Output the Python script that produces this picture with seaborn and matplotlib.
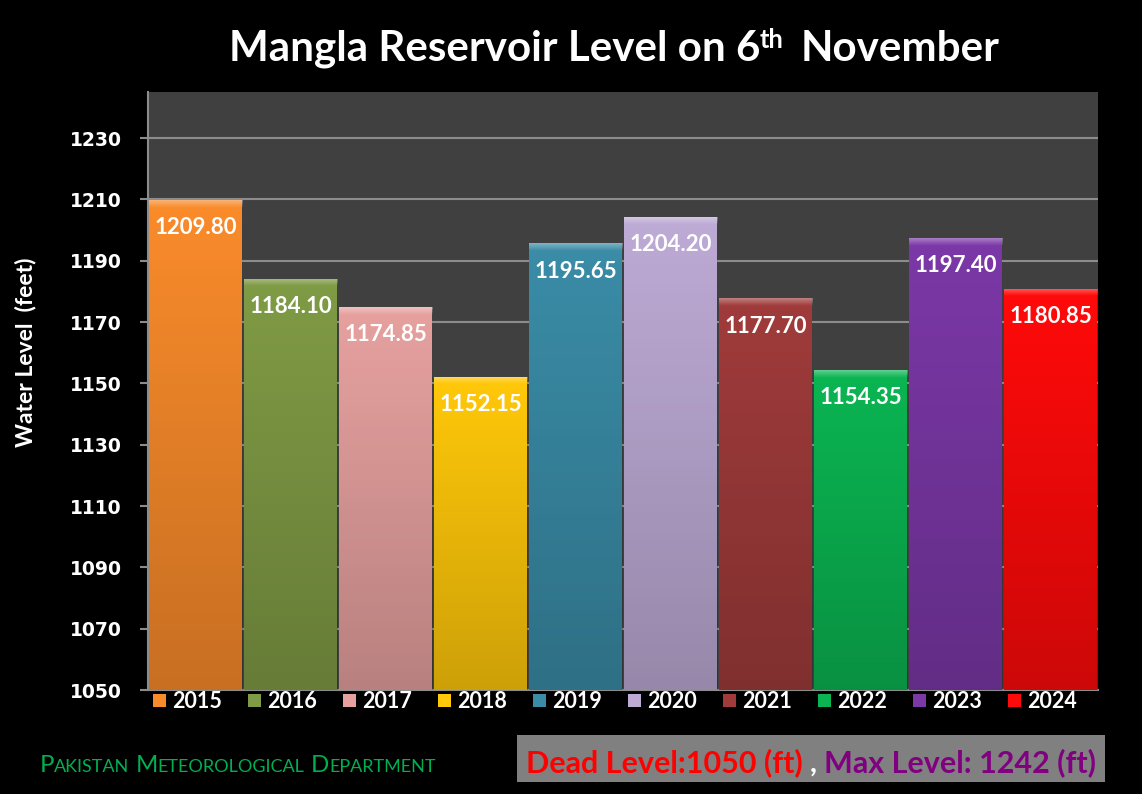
import matplotlib
matplotlib.use("Agg")
import matplotlib.pyplot as plt
import matplotlib.transforms as mtransforms
import numpy as np
import seaborn as sns
from matplotlib.patches import Rectangle

""" Mangla reservoir level on 6th November, 2015 - 2024 """

years = ["2015", "2016", "2017", "2018", "2019", "2020", "2021", "2022", "2023", "2024"]
levels = [1209.80, 1184.10, 1174.85, 1152.15, 1195.65, 1204.20, 1177.70, 1154.35, 1197.40, 1180.85]
bar_colours = ["#F98B2B", "#809B45", "#E6A19F", "#FFC80A", "#3A8CA7",
               "#BDAAD5", "#A03B3B", "#0BB552", "#7B38A7", "#FF0A0A"]
y_ticks = [1050, 1070, 1090, 1110, 1130, 1150, 1170, 1190, 1210, 1230]

W, H = 1142, 794
sns.set_theme(style="dark")
plt.rcParams["font.family"] = ["Lato", "DejaVu Sans"]

fig = plt.figure(figsize=(W / 100, H / 100), dpi=100)
fig.set_facecolor("black")
ax = fig.add_axes([148 / W, 1 - 690 / H, 950 / W, 598 / H])
ax.set_facecolor("#404040")

sns.barplot(x=years, y=levels, hue=years, palette=bar_colours, legend=False,
            width=0.98, saturation=1, ax=ax, zorder=3, linewidth=0)

# shade each bar a bit darker at the bottom, with a light bevel on top
for patch in ax.patches:
    x0, x1 = patch.get_x(), patch.get_x() + patch.get_width()
    top = patch.get_y() + patch.get_height()
    shade = np.zeros((100, 1, 4))
    shade[:, 0, 3] = np.linspace(0.0, 0.2, 100)
    im = ax.imshow(shade, extent=[x0, x1, 1050, top], aspect="auto",
                   origin="upper", zorder=4, interpolation="bilinear")
    im.set_clip_path(patch)
    bevel = np.ones((20, 1, 4))
    bevel[:, 0, 3] = np.linspace(0.35, 0.0, 20)
    im2 = ax.imshow(bevel, extent=[x0, x1, top - 2.5, top], aspect="auto",
                    origin="upper", zorder=4, interpolation="bilinear")
    im2.set_clip_path(patch)
ax.set_ylim(1050, 1245)
ax.set_xlim(-0.5, len(years) - 0.5)

# value labels inside the top of each bar
for i, v in enumerate(levels):
    ax.annotate(f"{v:.2f}", (i, v), xytext=(0, -20), textcoords="offset points",
                ha="center", va="center", color="white", fontsize=16,
                fontweight="bold", zorder=6)

# y axis
ax.set_yticks(y_ticks)
ax.set_yticklabels([str(t) for t in y_ticks])
ax.tick_params(axis="y", left=True, length=6, width=1.5, color="#8c8c8c", pad=13)
plt.setp(ax.get_yticklabels(), family="DejaVu Sans", fontweight="bold",
         fontsize=13.5, color="white")
ax.yaxis.grid(True, color="#8c8c8c", linewidth=1.5, zorder=1)
ax.xaxis.grid(False)
ax.set_axisbelow(True)
for side in ["top", "right"]:
    ax.spines[side].set_visible(False)
ax.spines["left"].set_color("#8c8c8c")
ax.spines["left"].set_linewidth(1.5)
ax.spines["bottom"].set_color("#8c8c8c")
ax.spines["bottom"].set_linewidth(1.5)
ax.set_ylabel("Water Level  (feet)", color="white", fontsize=16.5, fontweight="bold")
ax.yaxis.set_label_coords(-0.118, 0.565)

# x axis: year labels with a small coloured key in front of each
ax.set_xticks(range(len(years)))
ax.set_xticklabels([])
ax.tick_params(axis="x", bottom=False, length=0)
ax.set_xlabel("")
key_trans = mtransforms.blended_transform_factory(ax.transData, ax.transAxes)
ax.scatter(np.arange(len(years)) - 0.38, [-0.018] * len(years), marker="s", s=85,
           c=bar_colours, transform=key_trans, clip_on=False, zorder=5,
           edgecolors="none")
for i, yr in enumerate(years):
    ax.text(i + 0.02, -0.019, yr, transform=key_trans, ha="center", va="center",
            color="white", fontsize=15.5, fontweight="bold")

renderer = fig.canvas.get_renderer()


def text_width(s, **kw):
    t = fig.text(0, 0, s, **kw)
    w = t.get_window_extent(renderer).width
    t.remove()
    return w


def run_widths(runs):
    widths = []
    for s, kw, _ in runs:
        if s == " ":
            widths.append(text_width("a a", **kw) - text_width("aa", **kw))
        else:
            widths.append(text_width(s, **kw))
    return widths


def draw_runs(runs, x_left, baseline, target_width):
    """ runs: list of (text, kwargs, raise_px); fonts are scaled to fill target_width """
    factor = target_width / sum(run_widths(runs))
    runs = [(s, dict(kw, fontsize=kw["fontsize"] * factor), rise * factor)
            for s, kw, rise in runs]
    widths = run_widths(runs)
    x = x_left + (target_width - sum(widths)) / 2
    for (s, kw, rise), w in zip(runs, widths):
        if s != " ":
            fig.text(x / W, (baseline + rise) / H, s, va="baseline", ha="left", **kw)
        x += w


# title
big = dict(color="white", fontsize=33, fontweight="bold")
sup = dict(color="white", fontsize=20, fontweight="bold")
draw_runs([("Mangla Reservoir Level on 6", big, 0), ("th", sup, 14),
           (" ", big, 0), (" ", sup, 0), ("November", big, 0)], 228, H - 61, 772)

# department name in small caps
cap = dict(color="#00B050", fontsize=16)
low = dict(color="#00B050", fontsize=12)
draw_runs([("P", cap, 0), ("AKISTAN", low, 0), (" ", cap, 0),
           ("M", cap, 0), ("ETEOROLOGICAL", low, 0), (" ", cap, 0),
           ("D", cap, 0), ("EPARTMENT", low, 0)], 40, H - 772, 395)

# dead / max level box
fig.patches.append(Rectangle((517 / W, 1 - 782 / H), 588 / W, 47 / H,
                             transform=fig.transFigure, facecolor="#808080",
                             edgecolor="none", zorder=0))
red = dict(color="#FF0000", fontsize=20, fontweight="bold")
white = dict(color="white", fontsize=20, fontweight="bold")
purple = dict(color="#800080", fontsize=20, fontweight="bold")
draw_runs([("Dead Level:1050 (ft)", red, 0), (" ", white, 0), (",", white, 0),
           (" ", white, 0), ("Max Level: 1242 (ft)", purple, 0)],
          525, H - 772, 572)

plt.savefig("out.png", dpi=100, facecolor="black")
